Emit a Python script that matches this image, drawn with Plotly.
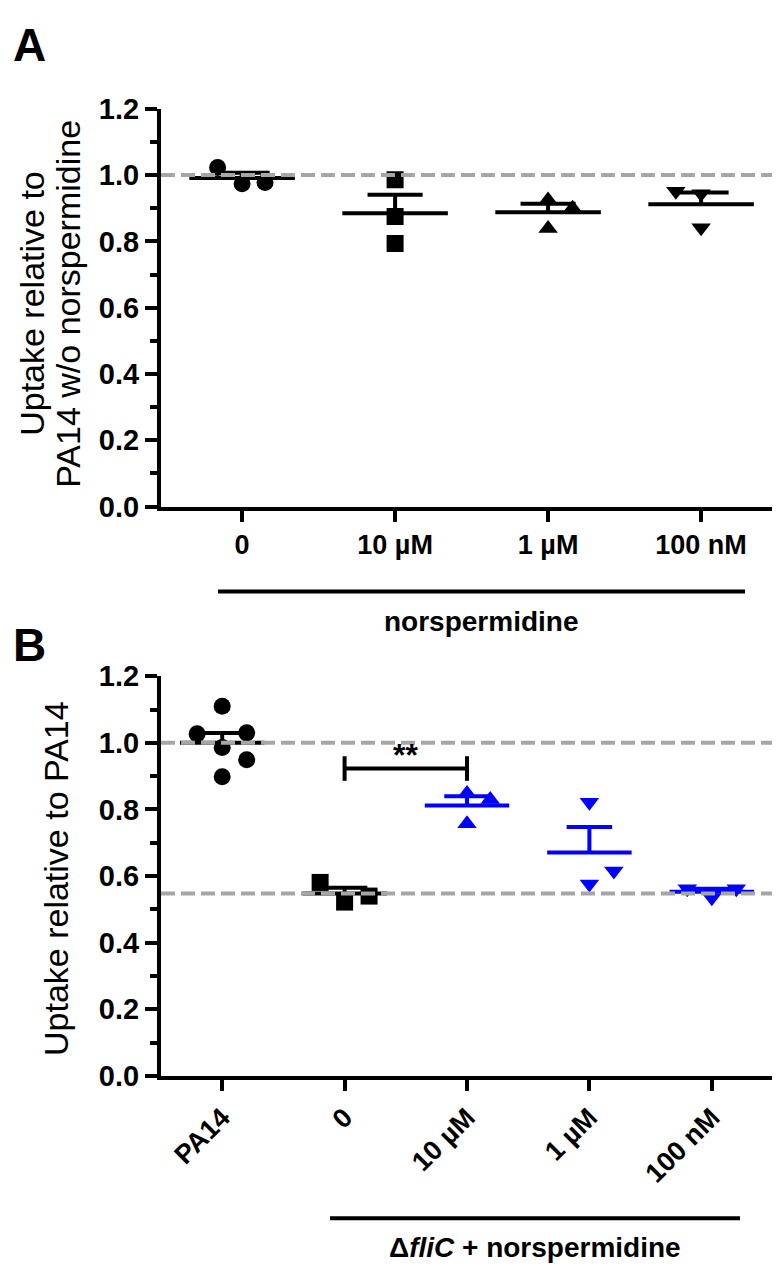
import plotly.graph_objects as go
import numpy as np

# ---- data ----
# Panel A: PA14 uptake with norspermidine
a_categories = ["0", "10 µM", "1 µM", "100 nM"]
a_ctrl = [1.023, 0.974, 0.978]
a_10uM = [0.986, 0.875, 0.794]
a_1uM = [0.925, 0.900, 0.839]
a_100nM = [0.951, 0.944, 0.841]

# Panel B: PA14 vs dfliC with norspermidine
b_categories = ["PA14", "0", "10 µM", "1 µM", "100 nM"]
b_pa14 = [1.110, 1.027, 1.030, 0.986, 0.949, 0.898]
b_ctrl = [0.581, 0.522, 0.540]
b_10uM = [0.848, 0.830, 0.757]
b_1uM = [0.822, 0.615, 0.576]
b_100nM = [0.562, 0.535, 0.562]

# horizontal scatter spread of points inside each column (category units)
a_spread = [[-0.16, 0, 0.15], [0, 0, 0], [0, 0.16, 0], [-0.165, 0, 0]]
b_spread = [[0, -0.205, 0.2, 0, 0.2, 0], [-0.2, 0, 0.2], [0, 0.19, 0], [0, 0.2, 0], [-0.2, 0, 0.2]]

ref_level = 1.0
sig_y = 0.923
sig_tick = 0.037

W, H = 780, 1277
FONT = "Liberation Sans, Arial, sans-serif"
BLUE = "#0000FF"
GREY = "#A6A6A6"


def px(x):
    return x / W


def py(y):
    return 1 - y / H


fig = go.Figure()


def add_column(i, vals, spread, symbol, color, xa, ya, mean_w, cap_w):
    vals = np.array(vals)
    xs = [i + s for s in spread]
    fig.add_trace(go.Scatter(x=xs, y=vals, mode="markers", xaxis=xa, yaxis=ya,
                             marker=dict(symbol=symbol, size=17, color=color, line=dict(width=0)),
                             showlegend=False))
    m = vals.mean()
    sem = vals.std(ddof=1) / np.sqrt(len(vals))
    line = dict(color=color, width=4)
    # mean bar
    fig.add_trace(go.Scatter(x=[i - mean_w, i + mean_w], y=[m, m], mode="lines", xaxis=xa, yaxis=ya,
                             line=line, showlegend=False))
    # upper SEM whisker + cap
    fig.add_trace(go.Scatter(x=[i, i, None, i - cap_w, i + cap_w], y=[m, m + sem, None, m + sem, m + sem],
                             mode="lines", xaxis=xa, yaxis=ya, line=line, showlegend=False))
    return m


a_groups = [a_ctrl, a_10uM, a_1uM, a_100nM]
a_symbols = ["circle", "square", "triangle-up", "triangle-down"]
for i, vals in enumerate(a_groups):
    add_column(i, vals, a_spread[i], a_symbols[i], "black", "x", "y", 0.345, 0.18)

b_groups = [b_pa14, b_ctrl, b_10uM, b_1uM, b_100nM]
b_symbols = ["circle", "square", "triangle-up", "triangle-down", "triangle-down"]
b_colors = ["black", "black", BLUE, BLUE, BLUE]
b_means = []
for i, vals in enumerate(b_groups):
    b_means.append(add_column(i, vals, b_spread[i], b_symbols[i], b_colors[i], "x2", "y2", 0.345, 0.186))

yaxis_style = dict(range=[0, 1.2], dtick=0.2, tickformat=".1f", showline=True, linewidth=4,
                   linecolor="black", ticks="outside", ticklen=12, tickwidth=4, tickcolor="black",
                   showgrid=False, zeroline=False,
                   minor=dict(ticks="outside", ticklen=7, tickwidth=4, tickcolor="black", dtick=0.1),
                   tickfont=dict(family=FONT, size=29, color="black", weight="bold"))
xaxis_style = dict(showline=True, linewidth=4, linecolor="black", ticks="outside", ticklen=11,
                   tickwidth=4, tickcolor="black", showgrid=False, zeroline=False,
                   tickfont=dict(family=FONT, size=27, color="black", weight="bold"))

fig.update_layout(
    width=W, height=H, margin=dict(l=0, r=0, t=0, b=0),
    paper_bgcolor="white", plot_bgcolor="white",
    xaxis=dict(domain=[px(153), px(765)], range=[-0.53, 3.47], anchor="y",
               tickvals=list(range(len(a_categories))), ticktext=a_categories, **xaxis_style),
    yaxis=dict(domain=[py(495), py(87)], anchor="x", **yaxis_style),
    xaxis2=dict(domain=[px(153), px(765)], range=[-0.5, 4.5], anchor="y2", tickangle=-45,
                tickvals=list(range(len(b_categories))), ticktext=b_categories, **xaxis_style),
    yaxis2=dict(domain=[py(1079), py(669)], anchor="x2", **yaxis_style),
)

dash = dict(color=GREY, width=4, dash="14px,6px")
# reference lines
fig.add_shape(type="line", xref="x domain", yref="y", x0=0, x1=1, y0=ref_level, y1=ref_level, line=dash)
fig.add_shape(type="line", xref="x2 domain", yref="y2", x0=0, x1=1, y0=ref_level, y1=ref_level, line=dash)
fig.add_shape(type="line", xref="x2 domain", yref="y2", x0=0, x1=1, y0=b_means[1], y1=b_means[1], line=dash)

# significance bracket between dfliC 0 and 10 uM
blk = dict(color="black", width=4)
fig.add_shape(type="line", xref="x2", yref="y2", x0=1, x1=2, y0=sig_y, y1=sig_y, line=blk)
fig.add_shape(type="line", xref="x2", yref="y2", x0=1, x1=1, y0=sig_y - sig_tick, y1=sig_y + sig_tick, line=blk)
fig.add_shape(type="line", xref="x2", yref="y2", x0=2, x1=2, y0=sig_y - sig_tick, y1=sig_y + sig_tick, line=blk)
fig.add_annotation(x=1.5, y=sig_y, xref="x2", yref="y2", text="**", showarrow=False,
                   xanchor="center", yanchor="bottom", yshift=-6,
                   font=dict(family=FONT, size=32, color="black", weight="bold"))

# group underlines
fig.add_shape(type="line", xref="paper", yref="paper", x0=px(210), x1=px(737), y0=py(582), y1=py(582),
              line=dict(color="black", width=4))
fig.add_shape(type="line", xref="paper", yref="paper", x0=px(322), x1=px(732), y0=py(1225), y1=py(1225),
              line=dict(color="black", width=4))

bold = dict(family=FONT, size=28, color="black", weight="bold")
fig.add_annotation(x=px(473), y=py(613), xref="paper", yref="paper", text="norspermidine",
                   xanchor="center", yanchor="middle", showarrow=False, font=bold)
fig.add_annotation(x=px(527), y=py(1255), xref="paper", yref="paper",
                   text="Δ<i>fliC</i> + norspermidine", xanchor="center", yanchor="middle",
                   showarrow=False, font=bold)

# axis titles
title_font = dict(family=FONT, size=34, color="black")
fig.add_annotation(x=px(24), y=py(287), xref="paper", yref="paper", textangle=-90,
                   text="Uptake relative to", xanchor="center", yanchor="middle",
                   showarrow=False, font=title_font)
fig.add_annotation(x=px(60), y=py(287), xref="paper", yref="paper", textangle=-90,
                   text="PA14 w/o norspermidine", xanchor="center", yanchor="middle",
                   showarrow=False, font=title_font)
fig.add_annotation(x=px(48), y=py(877), xref="paper", yref="paper", textangle=-90,
                   text="Uptake relative to PA14", xanchor="center", yanchor="middle",
                   showarrow=False, font=title_font)

# panel letters
letter = dict(family=FONT, size=46, color="black", weight="bold")
fig.add_annotation(x=px(21), y=py(22), xref="paper", yref="paper", text="A", showarrow=False,
                   xanchor="center", yanchor="middle", font=letter)
fig.add_annotation(x=px(21), y=py(637), xref="paper", yref="paper", text="B", showarrow=False,
                   xanchor="center", yanchor="middle", font=letter)

fig.write_html("out.html")
